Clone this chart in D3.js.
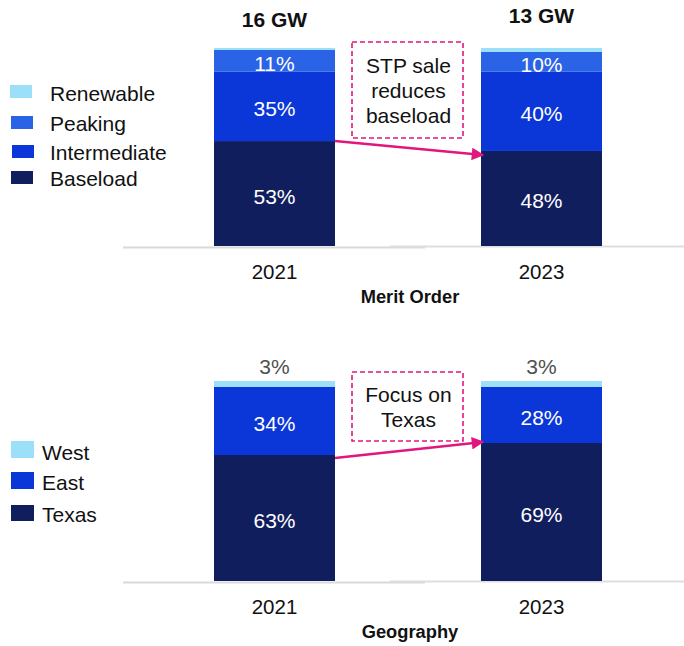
<!DOCTYPE html>
<html>
<head>
<meta charset="utf-8">
<script src="https://cdn.jsdelivr.net/npm/d3@7"></script>
<style>
  html, body { margin: 0; padding: 0; background: #fff; }
  svg { display: block; font-family: Arial, "Liberation Sans", sans-serif; }
</style>
</head>
<body>
<svg id="chart" width="684" height="646"></svg>
<script>
// ---- data ----
const years = ["2021", "2023"];
const capacityLabels = ["16 GW", "13 GW"];

const meritSeries = ["Baseload", "Intermediate", "Peaking", "Renewable"];
const meritBaseload = [53, 48];
const meritIntermediate = [35, 40];
const meritPeaking = [11, 10];
const meritRenewable = [1, 2];

const geoSeries = ["Texas", "East", "West"];
const geoTexas = [63, 69];
const geoEast = [34, 28];
const geoWest = [3, 3];

const colors = {
  Baseload: "#111e5e", Intermediate: "#0b37d9", Peaking: "#2b63e6", Renewable: "#9cdff8",
  Texas: "#111e5e", East: "#0b37d9", West: "#9cdff8"
};

const svg = d3.select("#chart");
const x = d3.scalePoint().domain(years).range([274.5, 541.5]);
const barW = 121;
const pink = "#e0177e";

// arrowhead marker
svg.append("defs").append("marker")
  .attr("id", "arrow").attr("viewBox", "0 0 10 10")
  .attr("refX", 9).attr("refY", 5)
  .attr("markerWidth", 5.5).attr("markerHeight", 5)
  .attr("markerUnits", "strokeWidth").attr("orient", "auto")
  .append("path").attr("d", "M0,0 L10,5 L0,10 Z").attr("fill", pink);

function panel(cfg) {
  const y = d3.scaleLinear().domain([0, 100]).range([cfg.base, cfg.top]);
  const rows = years.map((yr, i) => {
    const r = { year: yr };
    cfg.series.forEach((s, k) => r[s] = cfg.values[k][i]);
    return r;
  });
  const stacked = d3.stack().keys(cfg.series)(rows);
  const g = svg.append("g");

  // baseline rule
  g.append("line").attr("x1", 123).attr("x2", 425).attr("y1", cfg.base + 1.5).attr("y2", cfg.base + 1.5)
    .attr("stroke", "#d9d9d9").attr("stroke-width", 2);
  g.append("line").attr("x1", 390).attr("x2", 684).attr("y1", cfg.base + 0.5).attr("y2", cfg.base + 0.5)
    .attr("stroke", "#dedede").attr("stroke-width", 2);

  stacked.forEach(layer => {
    g.selectAll(null).data(layer).enter().append("rect")
      .attr("x", d => x(d.data.year) - barW / 2)
      .attr("width", barW)
      .attr("y", d => y(d[1]))
      .attr("height", d => y(d[0]) - y(d[1]))
      .attr("fill", colors[layer.key]);
    // value labels inside the larger segments
    if (cfg.inside.includes(layer.key)) {
      g.selectAll(null).data(layer).enter().append("text")
        .attr("x", d => x(d.data.year))
        .attr("y", d => (y(d[0]) + y(d[1])) / 2 + 10)
        .attr("text-anchor", "middle").attr("fill", "#fff")
        .attr("font-size", 21)
        .text(d => (d[1] - d[0]) + "%");
    }
    if (cfg.above && cfg.above === layer.key) {
      g.selectAll(null).data(layer).enter().append("text")
        .attr("x", d => x(d.data.year))
        .attr("y", d => y(d[1]) - 7)
        .attr("text-anchor", "middle").attr("fill", "#505050")
        .attr("font-size", 21)
        .text(d => (d[1] - d[0]) + "%");
    }
  });

  // year labels
  g.selectAll(null).data(years).enter().append("text")
    .attr("x", d => x(d)).attr("y", cfg.base + 33)
    .attr("text-anchor", "middle").attr("font-size", 20.5).attr("fill", "#111")
    .text(d => d);
  g.append("text").attr("x", 410).attr("y", cfg.base + 57)
    .attr("text-anchor", "middle").attr("font-size", 18.3).attr("font-weight", "bold").attr("fill", "#111")
    .text(cfg.title);

  // legend
  const lg = g.selectAll(null).data(cfg.legend).enter().append("g");
  lg.append("rect").attr("x", d => d.sx).attr("y", d => d.sy).attr("width", d => d.sw).attr("height", d => d.sh)
    .attr("fill", d => colors[d.key]);
  lg.append("text").attr("x", d => d.tx).attr("y", d => d.ty)
    .attr("font-size", 21).attr("fill", "#111").text(d => d.key);

  // annotation box + arrow
  g.append("rect").attr("x", cfg.box[0]).attr("y", cfg.box[1]).attr("width", cfg.box[2]).attr("height", cfg.box[3])
    .attr("fill", "none").attr("stroke", pink).attr("stroke-width", 1.6).attr("stroke-dasharray", "5,3");
  cfg.note.forEach((t, i) => {
    g.append("text").attr("x", cfg.box[0] + cfg.box[2] / 2 + 1).attr("y", cfg.noteY[i])
      .attr("text-anchor", "middle").attr("font-size", 21).attr("fill", "#111").text(t);
  });
  const y0 = y(stacked[0][0][1]) + cfg.arrowOff[0];
  const y1 = y(stacked[0][1][1]) + cfg.arrowOff[1];
  g.append("line")
    .attr("x1", x(years[0]) + barW / 2).attr("y1", y0)
    .attr("x2", x(years[1]) - barW / 2 + 2).attr("y2", y1)
    .attr("stroke", pink).attr("stroke-width", 2.5).attr("marker-end", "url(#arrow)");
}

// capacity headers
svg.selectAll(".cap").data(years).enter().append("text")
  .attr("x", d => x(d)).attr("y", (d, i) => i === 0 ? 27 : 23)
  .attr("text-anchor", "middle").attr("font-size", 21).attr("font-weight", "bold").attr("fill", "#111")
  .text((d, i) => capacityLabels[i]);

panel({
  base: 246, top: 48, title: "Merit Order",
  series: meritSeries,
  values: [meritBaseload, meritIntermediate, meritPeaking, meritRenewable],
  inside: ["Baseload", "Intermediate", "Peaking"],
  legend: [
    { key: "Renewable", sx: 10, sy: 85, sw: 22, sh: 13, tx: 50, ty: 101 },
    { key: "Peaking", sx: 11, sy: 116, sw: 22, sh: 13, tx: 50, ty: 131 },
    { key: "Intermediate", sx: 12, sy: 145, sw: 22, sh: 13, tx: 50, ty: 160 },
    { key: "Baseload", sx: 11, sy: 171, sw: 22, sh: 13, tx: 50, ty: 186 }
  ],
  box: [352, 42, 111, 96],
  note: ["STP sale", "reduces", "baseload"],
  noteY: [73, 98, 123],
  arrowOff: [0, 4]
});

panel({
  base: 581, top: 381, title: "Geography",
  series: geoSeries,
  values: [geoTexas, geoEast, geoWest],
  inside: ["Texas", "East"],
  above: "West",
  legend: [
    { key: "West", sx: 11, sy: 441, sw: 23, sh: 17, tx: 42, ty: 460 },
    { key: "East", sx: 11, sy: 472, sw: 23, sh: 17, tx: 42, ty: 490 },
    { key: "Texas", sx: 11, sy: 505, sw: 23, sh: 16, tx: 42, ty: 522 }
  ],
  box: [352, 372, 111, 69],
  note: ["Focus on", "Texas"],
  noteY: [402, 427],
  arrowOff: [3, -1]
});
</script>
</body>
</html>
